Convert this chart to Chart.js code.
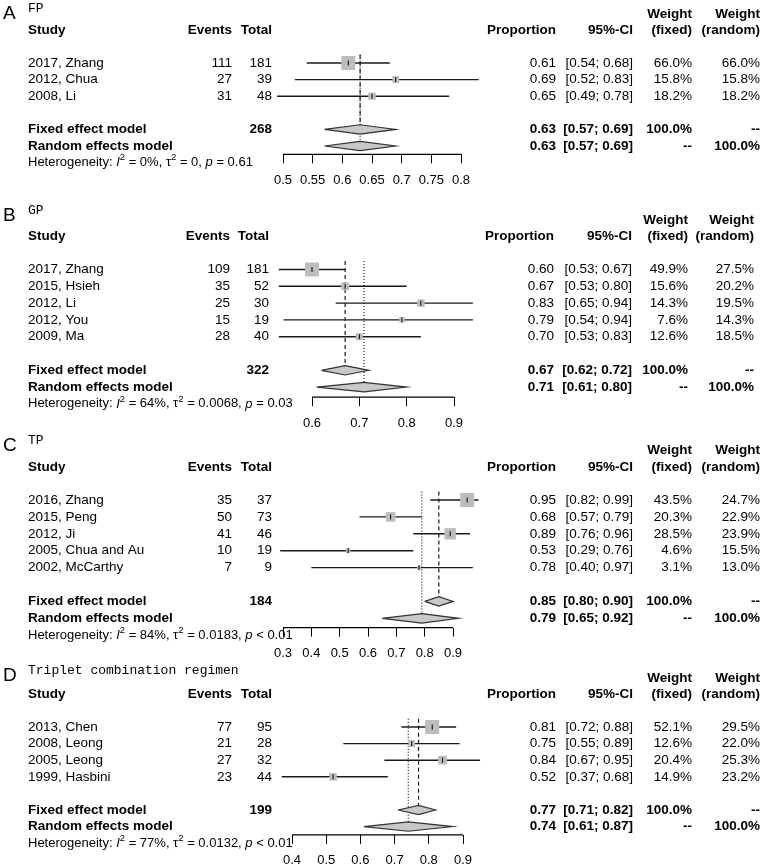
<!DOCTYPE html>
<html lang="en">
<head>
  <meta charset="UTF-8" />
  <title>Forest plots FP / GP / TP / Triplet</title>
  <script src="https://cdn.jsdelivr.net/npm/chart.js"></script>
  <style>
    body { margin: 0; background: #fff; }
    #wrap { position: relative; width: 763px; height: 866px; }
    #wrap canvas { position: absolute; left: 0; top: 0; }
  </style>
</head>
<body>
  <div id="wrap">
    <canvas id="chartA" width="763" height="866"></canvas>
    <canvas id="chartB" width="763" height="866"></canvas>
    <canvas id="chartC" width="763" height="866"></canvas>
    <canvas id="chartD" width="763" height="866"></canvas>
  </div>

  <script>
    // ---- A: FP
    const fpStudy = ['2017, Zhang', '2012, Chua', '2008, Li'];
    const fpEvents = [111, 27, 31];
    const fpTotal = [181, 39, 48];
    const fpProp = [0.61, 0.69, 0.65];
    const fpLower = [0.54, 0.52, 0.49];
    const fpUpper = [0.68, 0.83, 0.78];
    const fpWFixed = [66.0, 15.8, 18.2];
    const fpWRandom = [66.0, 15.8, 18.2];
    const fpFixed = [0.63, 0.57, 0.69];
    const fpRandom = [0.63, 0.57, 0.69];
    const fpHet = ['0%', '0', '= 0.61'];
    const fpTicks = [0.5, 0.55, 0.6, 0.65, 0.7, 0.75, 0.8];
    const fpTickLabels = ['0.5', '0.55', '0.6', '0.65', '0.7', '0.75', '0.8'];

    // ---- B: GP
    const gpStudy = ['2017, Zhang', '2015, Hsieh', '2012, Li', '2012, You', '2009, Ma'];
    const gpEvents = [109, 35, 25, 15, 28];
    const gpTotal = [181, 52, 30, 19, 40];
    const gpProp = [0.60, 0.67, 0.83, 0.79, 0.70];
    const gpLower = [0.53, 0.53, 0.65, 0.54, 0.53];
    const gpUpper = [0.67, 0.80, 0.94, 0.94, 0.83];
    const gpWFixed = [49.9, 15.6, 14.3, 7.6, 12.6];
    const gpWRandom = [27.5, 20.2, 19.5, 14.3, 18.5];
    const gpFixed = [0.67, 0.62, 0.72];
    const gpRandom = [0.71, 0.61, 0.80];
    const gpHet = ['64%', '0.0068', '= 0.03'];
    const gpTicks = [0.6, 0.7, 0.8, 0.9];
    const gpTickLabels = ['0.6', '0.7', '0.8', '0.9'];

    // ---- C: TP
    const tpStudy = ['2016, Zhang', '2015, Peng', '2012, Ji', '2005, Chua and Au', '2002, McCarthy'];
    const tpEvents = [35, 50, 41, 10, 7];
    const tpTotal = [37, 73, 46, 19, 9];
    const tpProp = [0.95, 0.68, 0.89, 0.53, 0.78];
    const tpLower = [0.82, 0.57, 0.76, 0.29, 0.40];
    const tpUpper = [0.99, 0.79, 0.96, 0.76, 0.97];
    const tpWFixed = [43.5, 20.3, 28.5, 4.6, 3.1];
    const tpWRandom = [24.7, 22.9, 23.9, 15.5, 13.0];
    const tpFixed = [0.85, 0.80, 0.90];
    const tpRandom = [0.79, 0.65, 0.92];
    const tpHet = ['84%', '0.0183', '< 0.01'];
    const tpTicks = [0.3, 0.4, 0.5, 0.6, 0.7, 0.8, 0.9];
    const tpTickLabels = ['0.3', '0.4', '0.5', '0.6', '0.7', '0.8', '0.9'];

    // ---- D: triplet combination regimen
    const trStudy = ['2013, Chen', '2008, Leong', '2005, Leong', '1999, Hasbini'];
    const trEvents = [77, 21, 27, 23];
    const trTotal = [95, 28, 32, 44];
    const trProp = [0.81, 0.75, 0.84, 0.52];
    const trLower = [0.72, 0.55, 0.67, 0.37];
    const trUpper = [0.88, 0.89, 0.95, 0.68];
    const trWFixed = [52.1, 12.6, 20.4, 14.9];
    const trWRandom = [29.5, 22.0, 25.3, 23.2];
    const trFixed = [0.77, 0.71, 0.82];
    const trRandom = [0.74, 0.61, 0.87];
    const trHet = ['77%', '0.0132', '< 0.01'];
    const trTicks = [0.4, 0.5, 0.6, 0.7, 0.8, 0.9];
    const trTickLabels = ['0.4', '0.5', '0.6', '0.7', '0.8', '0.9'];

    const W = 763, H = 866, AXIS_H = 30;
    const EXT = 0.15; // extra x range so marks past the axis ends still get drawn
    const SANS = '"Liberation Sans", Arial, sans-serif';
    const MONO = '"Liberation Mono", "Courier New", monospace';

    const colsStd = { study: 28, events: 232, total: 272, prop: 556, ci: 633, wf: 692, wr: 760 };
    const colsB = { study: 28, events: 230, total: 269, prop: 554, ci: 632, wf: 688, wr: 754 };

    const panels = [
      { id: 'chartA', letter: 'A', title: 'FP', study: fpStudy, events: fpEvents, total: fpTotal,
        prop: fpProp, lower: fpLower, upper: fpUpper, wFixed: fpWFixed, wRandom: fpWRandom,
        fixed: fpFixed, random: fpRandom, het: fpHet, ticks: fpTicks, tickLabels: fpTickLabels,
        y0: 63, rowH: 16.6, axisRow: 5.5, xLeft: 283, xRight: 461, titleRow: -3.25, cols: colsStd },
      { id: 'chartB', letter: 'B', title: 'GP', study: gpStudy, events: gpEvents, total: gpTotal,
        prop: gpProp, lower: gpLower, upper: gpUpper, wFixed: gpWFixed, wRandom: gpWRandom,
        fixed: gpFixed, random: gpRandom, het: gpHet, ticks: gpTicks, tickLabels: gpTickLabels,
        y0: 269.5, rowH: 16.8, axisRow: 7.6, xLeft: 312, xRight: 454, titleRow: -3.5, cols: colsB },
      { id: 'chartC', letter: 'C', title: 'TP', study: tpStudy, events: tpEvents, total: tpTotal,
        prop: tpProp, lower: tpLower, upper: tpUpper, wFixed: tpWFixed, wRandom: tpWRandom,
        fixed: tpFixed, random: tpRandom, het: tpHet, ticks: tpTicks, tickLabels: tpTickLabels,
        y0: 500, rowH: 16.9, axisRow: 7.55, xLeft: 283, xRight: 453, titleRow: -3.5, cols: colsStd },
      { id: 'chartD', letter: 'D', title: 'Triplet combination regimen', study: trStudy, events: trEvents, total: trTotal,
        prop: trProp, lower: trLower, upper: trUpper, wFixed: trWFixed, wRandom: trWRandom,
        fixed: trFixed, random: trRandom, het: trHet, ticks: trTicks, tickLabels: trTickLabels,
        y0: 727, rowH: 16.6, axisRow: 6.5, xLeft: 292, xRight: 463, titleRow: -3.4, cols: colsStd }
    ];

    function txt(ctx, s, x, y, align, font) {
      ctx.font = font;
      ctx.textAlign = align;
      ctx.fillText(s, x, y);
    }

    // heterogeneity line with italic I / p and superscripts
    function drawHet(ctx, x, y, het) {
      const norm = '13px ' + SANS, ital = 'italic 13px ' + SANS, sup = '9.5px ' + SANS;
      const parts = [
        ['Heterogeneity: ', norm, 0], ['I', ital, 0], ['2', sup, -5],
        [' = ' + het[0] + ', ', norm, 0], ['\u03c4', norm, 0], ['2', sup, -5],
        [' = ' + het[1] + ', ', norm, 0], ['p', ital, 0], [' ' + het[2], norm, 0]
      ];
      ctx.textAlign = 'left';
      parts.forEach(([s, f, dy]) => {
        ctx.font = f;
        ctx.fillText(s, x, y + dy);
        x += ctx.measureText(s).width;
      });
    }

    function textPlugin(p) {
      return {
        id: 'forestText',
        afterDraw(chart) {
          const ctx = chart.ctx;
          const yS = chart.scales.y;
          const row = r => yS.getPixelForValue(r);
          const c = p.cols;
          const n = p.study.length;
          const N = '13.5px ' + SANS, B = 'bold 13.5px ' + SANS;
          ctx.save();
          ctx.fillStyle = '#000';
          ctx.textBaseline = 'middle';

          txt(ctx, p.letter, 3, row(p.titleRow) + 5, 'left', '19px ' + SANS);
          txt(ctx, p.title, c.study, row(p.titleRow), 'left', '13px ' + MONO);

          const hy = row(-1.95), wy = row(-2.95);
          txt(ctx, 'Study', c.study, hy, 'left', B);
          txt(ctx, 'Events', c.events, hy, 'right', B);
          txt(ctx, 'Total', c.total, hy, 'right', B);
          txt(ctx, 'Proportion', c.prop, hy, 'right', B);
          txt(ctx, '95%-CI', c.ci, hy, 'right', B);
          txt(ctx, 'Weight', c.wf, wy, 'right', B);
          txt(ctx, '(fixed)', c.wf, hy, 'right', B);
          txt(ctx, 'Weight', c.wr, wy, 'right', B);
          txt(ctx, '(random)', c.wr, hy, 'right', B);

          for (let i = 0; i < n; i++) {
            const y = row(i);
            txt(ctx, p.study[i], c.study, y, 'left', N);
            txt(ctx, String(p.events[i]), c.events, y, 'right', N);
            txt(ctx, String(p.total[i]), c.total, y, 'right', N);
            txt(ctx, p.prop[i].toFixed(2), c.prop, y, 'right', N);
            txt(ctx, '[' + p.lower[i].toFixed(2) + '; ' + p.upper[i].toFixed(2) + ']', c.ci, y, 'right', N);
            txt(ctx, p.wFixed[i].toFixed(1) + '%', c.wf, y, 'right', N);
            txt(ctx, p.wRandom[i].toFixed(1) + '%', c.wr, y, 'right', N);
          }

          const fy = row(n + 1), ry = row(n + 2);
          const sumN = p.total.reduce((a, b) => a + b, 0);
          txt(ctx, 'Fixed effect model', c.study, fy, 'left', B);
          txt(ctx, String(sumN), c.total, fy, 'right', B);
          txt(ctx, p.fixed[0].toFixed(2), c.prop, fy, 'right', B);
          txt(ctx, '[' + p.fixed[1].toFixed(2) + '; ' + p.fixed[2].toFixed(2) + ']', c.ci, fy, 'right', B);
          txt(ctx, '100.0%', c.wf, fy, 'right', B);
          txt(ctx, '--', c.wr, fy, 'right', B);

          txt(ctx, 'Random effects model', c.study, ry, 'left', B);
          txt(ctx, p.random[0].toFixed(2), c.prop, ry, 'right', B);
          txt(ctx, '[' + p.random[1].toFixed(2) + '; ' + p.random[2].toFixed(2) + ']', c.ci, ry, 'right', B);
          txt(ctx, '--', c.wf, ry, 'right', B);
          txt(ctx, '100.0%', c.wr, ry, 'right', B);

          drawHet(ctx, c.study, row(n + 3), p.het);
          ctx.restore();
        }
      };
    }

    function buildChart(p) {
      const n = p.study.length;
      const fixedRow = n + 1, randomRow = n + 2;
      const tMin = p.ticks[0], tMax = p.ticks[p.ticks.length - 1];
      const ppu = (p.xRight - p.xLeft) / (tMax - tMin);
      const top = p.y0 - p.rowH;
      const bottom = p.y0 + p.axisRow * p.rowH;
      const maxW = Math.max(...p.wFixed);
      const dh = 0.28;
      const datasets = [];

      // small vertical tick at each estimate
      datasets.push({
        type: 'scatter', order: 0, clip: false,
        data: p.prop.map((v, i) => ({ x: v, y: i })),
        pointStyle: 'line', pointRotation: 90, pointRadius: 2.5,
        pointBorderColor: '#000', pointBorderWidth: 1
      });
      // weight squares
      datasets.push({
        type: 'scatter', order: 1, clip: false,
        data: p.prop.map((v, i) => ({ x: v, y: i })),
        pointStyle: 'rect',
        pointRadius: p.wFixed.map(w => 14 * Math.sqrt(w / maxW) / Math.SQRT2),
        pointBackgroundColor: '#bdbdbd', pointBorderWidth: 0
      });
      // confidence intervals
      p.prop.forEach((v, i) => {
        datasets.push({
          type: 'line', order: 2, clip: false,
          data: [{ x: p.lower[i], y: i }, { x: p.upper[i], y: i }],
          borderColor: '#1a1a1a', borderWidth: 1.4, pointRadius: 0
        });
      });
      // pooled diamonds
      [[p.fixed, fixedRow], [p.random, randomRow]].forEach(([m, r]) => {
        datasets.push({
          type: 'line', order: 2, clip: false,
          data: [{ x: m[1], y: r }, { x: m[0], y: r - dh }, { x: m[2], y: r }, { x: m[0], y: r + dh }, { x: m[1], y: r }],
          fill: 'shape', backgroundColor: '#c8c8c8',
          borderColor: '#333', borderWidth: 1.2, pointRadius: 0
        });
      });
      // reference lines
      datasets.push({
        type: 'line', order: 3, clip: false,
        data: [{ x: p.fixed[0], y: -0.5 }, { x: p.fixed[0], y: fixedRow }],
        borderColor: '#1a1a1a', borderWidth: 1.2, borderDash: [4, 3], pointRadius: 0
      });
      datasets.push({
        type: 'line', order: 3, clip: false,
        data: [{ x: p.random[0], y: -0.5 }, { x: p.random[0], y: randomRow }],
        borderColor: '#1a1a1a', borderWidth: 1.2, borderDash: [1, 2], pointRadius: 0
      });
      // axis line, only over the tick range
      datasets.push({
        type: 'line', order: 4, clip: false,
        data: [{ x: tMin, y: p.axisRow }, { x: tMax, y: p.axisRow }],
        borderColor: '#000', borderWidth: 1.2, pointRadius: 0
      });

      new Chart(document.getElementById(p.id), {
        type: 'scatter',
        data: { datasets },
        plugins: [textPlugin(p)],
        options: {
          responsive: false,
          animation: false,
          devicePixelRatio: 1,
          events: [],
          layout: {
            padding: {
              left: p.xLeft - EXT * ppu,
              right: W - p.xRight - EXT * ppu,
              top: top,
              bottom: H - bottom - AXIS_H
            }
          },
          plugins: { legend: { display: false }, tooltip: { enabled: false } },
          scales: {
            x: {
              type: 'linear',
              min: tMin - EXT,
              max: tMax + EXT,
              afterBuildTicks: s => { s.ticks = p.ticks.map(v => ({ value: v })); },
              afterFit: s => { s.height = AXIS_H; },
              grid: { display: true, drawOnChartArea: false, drawTicks: true, tickLength: 9, color: '#000' },
              border: { display: false },
              ticks: {
                autoSkip: false, maxRotation: 0, minRotation: 0, padding: 9, color: '#000',
                font: { family: SANS, size: 13 },
                callback: (v, i) => p.tickLabels[i]
              }
            },
            y: { type: 'linear', display: false, reverse: true, min: -1, max: p.axisRow }
          }
        }
      });
    }

    panels.forEach(buildChart);
  </script>
</body>
</html>
